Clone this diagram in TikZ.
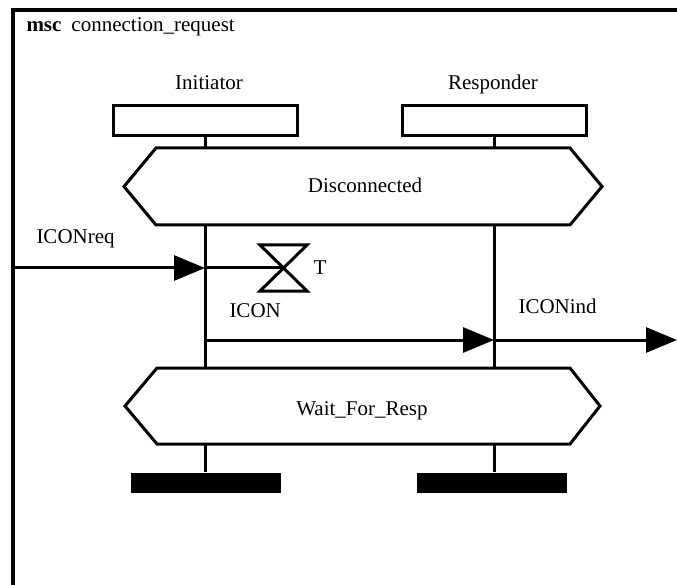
\documentclass[tikz,border=0pt]{standalone}
\usepackage{fontspec}
\setmainfont{Liberation Serif}
\usetikzlibrary{arrows.meta}
\begin{document}
\begin{tikzpicture}[x=1pt,y=-1pt, line width=3pt,
  inst/.style={draw, fill=white, minimum width=184pt, minimum height=30pt, inner sep=0pt},
  lbl/.style={font=\fontsize{21}{24}\selectfont, inner sep=0pt},
  msg/.style={-{Triangle[length=31pt,width=25pt]}},
  stopbar/.style={fill=black, draw=none, minimum width=150pt, minimum height=20pt, inner sep=0pt},
  hexa/.style={draw, fill=white, line join=miter}]
\useasboundingbox (0,0) rectangle (677,585);
% frame
\draw[line width=3.5pt] (13,620) -- (13,10) -- (720,10);
\node[lbl, anchor=base west] (title) at (25,32) {\textbf{msc}\hspace{10pt}connection\_request};
% instances
\node[lbl, anchor=base] (initlbl) at (209,90) {Initiator};
\node[lbl, anchor=base] (resplbl) at (493,90) {Responder};
\node[inst] (init) at (205,121) {};
\node[inst] (resp) at (494,121) {};
\node[stopbar] (istop) at (206,483) {};
\node[stopbar] (rstop) at (492,483) {};
\draw (init.south) -- (init.south |- istop.north);
\draw (resp.south) -- (resp.south |- rstop.north);
% conditions
\draw[hexa] (124,186.5) -- (156,148) -- (570,148) -- (602,186.5) -- (570,225) -- (156,225) -- cycle;
\node[lbl, anchor=base] (disc) at (365,193) {Disconnected};
\draw[hexa] (125,406) -- (157,368) -- (570,368) -- (600,406) -- (570,444) -- (157,444) -- cycle;
\node[lbl, anchor=base] (wait) at (362,415) {Wait\_For\_Resp};
% messages
\coordinate (envin) at (13,268);
\coordinate (i1) at (205,268);
\coordinate (tm) at (283,268);
\draw[msg] (envin) -- (i1);
\node[lbl, anchor=base west] (reqlbl) at (35,244) {ICONreq};
\draw (i1) -- (tm);
\draw[line join=miter] (260,245) -- (307,245) -- (260,291) -- (307,291) -- cycle;
\node[lbl, anchor=base west] (tlbl) at (312,275) {T};
\coordinate (i2) at (205,340);
\coordinate (r2) at (494,340);
\coordinate (envout) at (677,340);
\draw[msg] (i2) -- (r2);
\node[lbl, anchor=base west] (iconlbl) at (228,317) {ICON};
\draw[msg] (r2) -- (envout);
\node[lbl, anchor=base west] (indlbl) at (517,313) {ICONind};
\end{tikzpicture}
\end{document}
